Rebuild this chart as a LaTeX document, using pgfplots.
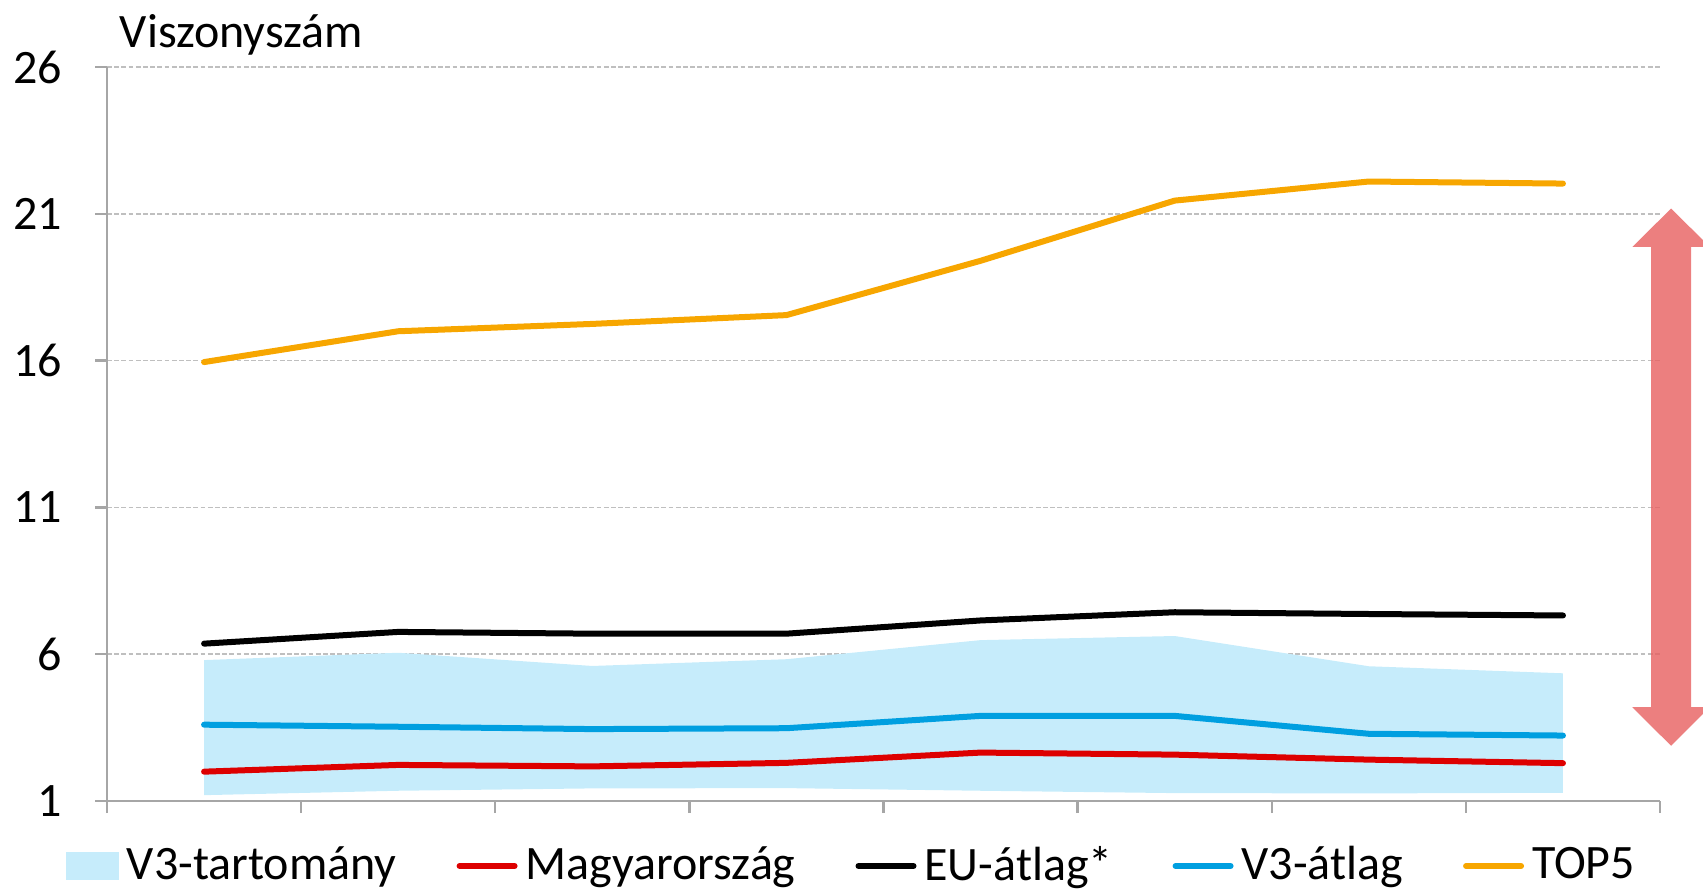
\documentclass[border=0pt]{standalone}
\usepackage{fontspec}
\setmainfont{Carlito}
\usepackage{pgfplots}
\pgfplotsset{compat=1.18}

\definecolor{top5}{HTML}{F7A600}
\definecolor{euavg}{HTML}{000000}
\definecolor{v3avg}{HTML}{009FE0}
\definecolor{hun}{HTML}{DD0000}
\definecolor{band}{HTML}{C6ECFB}
\definecolor{arrowcol}{HTML}{E75F5F}
\definecolor{gridgray}{HTML}{BFBFBF}
\definecolor{axisgray}{HTML}{A6A6A6}

\begin{document}
\begin{tikzpicture}
\begin{axis}[
  width=388.25pt, height=183.5pt, scale only axis,
  xmin=0.5, xmax=8.5, ymin=1, ymax=26,
  xtick={0.5,1.5,...,8.5}, xticklabels={},
  ytick={1,6,11,16,21,26},
  axis lines*=left,
  axis line style={draw=axisgray, line width=0.6pt, -},
  tick align=outside,
  major tick length=3pt,
  major tick style={draw=axisgray, line width=0.6pt},
  ymajorgrids,
  grid style={gridgray, line width=0.4pt, dash pattern=on 1.2pt off 0.6pt},
  font=\fontsize{12}{14}\selectfont,
  /pgf/number format/assume math mode=true,
  yticklabel style={anchor=east, inner sep=0pt, xshift=-8pt},
  clip=false,
  legend columns=5,
  legend style={at={(axis description cs:0,0)}, anchor=west,
    xshift=-10.5pt, yshift=-16.25pt, draw=none, fill=none, inner sep=0pt,
    font=\fontsize{12}{14}\selectfont,
    /tikz/every even column/.append style={column sep=13pt}},
  legend cell align=left,
  legend image code/.code={\draw[#1, line width=1.5pt] (0pt,0pt) -- (13.75pt,0pt);},
]
% V3-tartomány (upper, then lower reversed)
\addplot[fill=band, draw=none, area legend,
  legend image code/.code={\fill[band] (0pt,-3.4pt) rectangle (13.25pt,3.4pt);}]
  coordinates {(1,5.80) (2,6.05) (3,5.60) (4,5.83) (5,6.48) (6,6.62) (7,5.59) (8,5.35)
               (8,1.28) (7,1.26) (6,1.27) (5,1.35) (4,1.44) (3,1.43) (2,1.35) (1,1.20)} -- cycle;
\addlegendentry{V3-tartomány}
\addplot[hun, line width=1.5pt, line cap=round, line join=round]
  coordinates {(1,2.00) (2,2.23) (3,2.18) (4,2.30) (5,2.65) (6,2.58) (7,2.41) (8,2.29)};
\addlegendentry{Magyarország}
\addplot[euavg, line width=1.5pt, line cap=round, line join=round]
  coordinates {(1,6.36) (2,6.76) (3,6.70) (4,6.70) (5,7.15) (6,7.43) (7,7.37) (8,7.32)};
\addlegendentry{EU-átlag*}
\addplot[v3avg, line width=1.5pt, line cap=round, line join=round]
  coordinates {(1,3.60) (2,3.53) (3,3.45) (4,3.48) (5,3.90) (6,3.90) (7,3.29) (8,3.23)};
\addlegendentry{V3-átlag}
\addplot[top5, line width=1.5pt, line cap=round, line join=round]
  coordinates {(1,15.95) (2,17.00) (3,17.25) (4,17.55) (5,19.40) (6,21.45) (7,22.10) (8,22.03)};
\addlegendentry{TOP5}

% double arrow on the right
\fill[arrowcol, opacity=0.8]
  (axis cs:8.557,21.18) -- (axis cs:8.757,19.87) -- (axis cs:8.660,19.87)
  -- (axis cs:8.660,4.20) -- (axis cs:8.757,4.20) -- (axis cs:8.557,2.88)
  -- (axis cs:8.357,4.20) -- (axis cs:8.454,4.20) -- (axis cs:8.454,19.87)
  -- (axis cs:8.357,19.87) -- cycle;

\node[anchor=base west, inner sep=0pt, font=\fontsize{12}{14}\selectfont]
  at ([shift={(3pt,5pt)}]rel axis cs:0,1) {Viszonyszám};
\end{axis}
\pgfresetboundingbox
\path[use as bounding box]
  ([shift={(-26.75pt,-22.75pt)}]current axis.south west)
  rectangle ([shift={(10.75pt,16.75pt)}]current axis.north east);
\end{tikzpicture}
\end{document}
